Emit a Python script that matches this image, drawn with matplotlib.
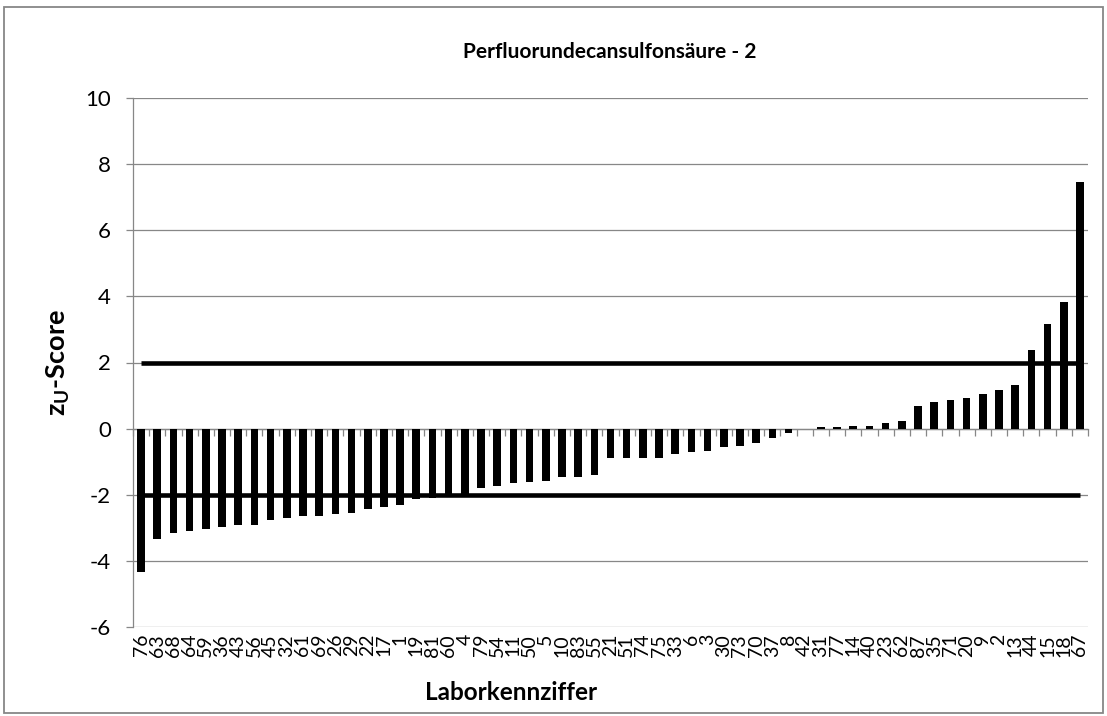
import matplotlib
matplotlib.use("Agg")
import matplotlib.pyplot as plt
from matplotlib.patches import Rectangle
import numpy as np

labels = ["76", "63", "68", "64", "59", "36", "43", "56", "45", "32",
          "61", "69", "26", "29", "22", "17", "1", "19", "81", "60",
          "4", "79", "54", "11", "50", "5", "10", "83", "55", "21",
          "51", "74", "75", "33", "6", "3", "30", "73", "70", "37",
          "8", "42", "31", "77", "14", "40", "23", "62", "87", "35",
          "71", "20", "9", "2", "13", "44", "15", "18", "67"]
zscores = [-4.35, -3.34, -3.16, -3.11, -3.04, -2.99, -2.90, -2.90, -2.76, -2.71,
           -2.64, -2.64, -2.59, -2.54, -2.43, -2.36, -2.30, -2.14, -2.11, -2.07,
           -2.00, -1.81, -1.73, -1.63, -1.61, -1.58, -1.45, -1.45, -1.40, -0.89,
           -0.89, -0.89, -0.88, -0.77, -0.70, -0.67, -0.57, -0.54, -0.44, -0.29,
           -0.13, 0.0, 0.05, 0.05, 0.08, 0.08, 0.17, 0.23, 0.69, 0.80,
           0.87, 0.93, 1.04, 1.16, 1.32, 2.37, 3.15, 3.83, 7.45]
upper_limit = [2] * len(labels)
lower_limit = [-2] * len(labels)
title = "Perfluorundecansulfonsäure - 2"
xlabel = "Laborkennziffer"
ylabel = r"$\mathbf{z_U}$-Score"
yticks = [-6, -4, -2, 0, 2, 4, 6, 8, 10]

plt.rcParams['font.family'] = ['Lato', 'DejaVu Sans']
plt.rcParams['mathtext.fontset'] = 'custom'
plt.rcParams['mathtext.rm'] = 'Lato'
plt.rcParams['mathtext.bf'] = 'Lato:bold'
plt.rcParams['mathtext.it'] = 'Lato:italic'

W, H = 1107, 716
fig = plt.figure(figsize=(W / 100, H / 100), dpi=100)
ax = fig.add_axes([133 / W, 1 - 627 / H, (1088 - 133) / W, (627 - 98) / H])

grey = "#878787"
x = np.arange(len(labels))
ax.bar(x, zscores, width=0.47, color="black", zorder=3)
ax.plot(x, upper_limit, color="black", lw=3.3, zorder=4, solid_capstyle="butt")
ax.plot(x, lower_limit, color="black", lw=3.3, zorder=4, solid_capstyle="butt")

ax.set_xlim(-0.5, len(labels) - 0.5)
ax.set_ylim(-6, 10)
ax.set_yticks(yticks)
ax.set_yticklabels([str(v) for v in yticks])
ax.yaxis.grid(True, color=grey, lw=0.9, zorder=0)
ax.set_axisbelow(True)
ax.tick_params(axis="y", direction="out", length=5, width=0.9, color=grey,
               labelsize=16, pad=11)

for s in ["top", "right"]:
    ax.spines[s].set_visible(False)
ax.spines["left"].set_color(grey)
ax.spines["left"].set_linewidth(0.9)
ax.spines["bottom"].set_position(("data", 0))
ax.spines["bottom"].set_color(grey)
ax.spines["bottom"].set_linewidth(0.9)
ax.spines["bottom"].set_zorder(2)
ax.set_xticks([])
ax.set_xticks(np.arange(-0.5, len(labels), 1.0), minor=True)
ax.tick_params(axis="x", which="minor", direction="out", length=5, width=0.9,
               color=grey, labelbottom=False)

sec = ax.secondary_xaxis(0)
sec.set_xticks(x, labels, rotation=90)
sec.tick_params(length=0, labelsize=14, pad=5)
sec.spines["bottom"].set_visible(False)

fig.text(610 / W, 1 - 52 / H, title, ha="center", va="center",
         fontsize=15, fontweight="bold")
fig.text(511 / W, 1 - 692 / H, xlabel, ha="center", va="center",
         fontsize=17.5, fontweight="bold")
fig.text(58 / W, 1 - 363 / H, ylabel, ha="center", va="center",
         rotation=90, fontsize=19.5, fontweight="bold")

fig.patches.append(Rectangle((4 / W, 1 - 713 / H), 1099 / W, 706 / H,
                             transform=fig.transFigure, fill=False,
                             edgecolor=grey, lw=1.3))

fig.savefig("out.png", dpi=100)
